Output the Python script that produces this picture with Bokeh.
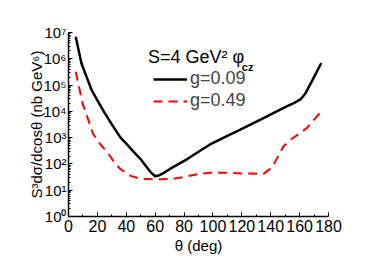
from bokeh.plotting import figure
from bokeh.models import FixedTicker, Legend, LegendItem, Label
from bokeh.embed import file_html
from bokeh.resources import INLINE

# --- data ---
theta_g009 = [5, 9, 12, 16, 20, 25, 30, 36, 40, 45, 50, 55, 57, 60, 63, 66, 70, 76, 82, 90, 98,
              110, 119, 135, 150, 157, 161, 164, 170, 175]
sigma_g009 = [6.9e6, 6.6e5, 2.45e5, 6.5e4, 2.6e4, 8.7e3, 3.2e3, 1.0e3, 5.9e2, 2.95e2, 1.5e2, 66,
              48, 34, 37, 46, 63, 98, 1.5e2, 2.9e2, 5.5e2, 1.17e3, 2.0e3, 5.5e3, 1.45e4, 2.2e4,
              3.0e4, 4.8e4, 2.0e5, 6.9e5]

theta_g049 = [5, 8, 10, 12, 17, 22, 27, 32, 36, 43, 50, 64, 72, 80, 91, 98, 110, 122, 135, 141,
              145, 149, 154, 165, 175]
sigma_g049 = [3.2e5, 5.6e4, 1.8e4, 8.9e3, 1.4e3, 5.6e2, 2.7e2, 1.1e2, 63, 35, 27, 26, 27, 32, 42,
              46, 46, 43, 42, 74, 1.9e2, 4.8e2, 8.5e2, 2.3e3, 1.0e4]

series_labels = ["g=0.09", "g=0.49"]
x_ticks = [0, 20, 40, 60, 80, 100, 120, 140, 160, 180]
x_minor_ticks = [10, 30, 50, 70, 90, 110, 130, 150, 170]
y_ticks = [1, 10, 100, 1000, 10000, 100000, 1000000, 10000000]
y_tick_labels = ["10⁰", "10¹", "10²", "10³", "10⁴", "10⁵", "10⁶", "10⁷"]
y_minor_ticks = [m * 10 ** e for e in range(0, 7) for m in range(2, 10)]

FONT = "Liberation Sans"

p = figure(width=366, height=256,
           min_border_left=68, min_border_right=38, min_border_top=32, min_border_bottom=38,
           y_axis_type="log", x_range=(0, 180), y_range=(1, 1e7),
           output_backend="svg", toolbar_location=None)
p.outline_line_color = None
p.xgrid.visible = False
p.ygrid.visible = False
p.background_fill_color = "white"
p.border_fill_color = "white"

r1 = p.line(theta_g009, sigma_g009, line_color="black", line_width=2.5, line_join="round")
r2 = p.line(theta_g049, sigma_g049, line_color="red", line_width=2, line_dash="9 6",
            line_join="round")

# axes
p.xaxis.ticker = FixedTicker(ticks=x_ticks, minor_ticks=x_minor_ticks)
p.yaxis.ticker = FixedTicker(ticks=y_ticks, minor_ticks=y_minor_ticks)
p.yaxis.major_label_overrides = {t: lab for t, lab in zip(y_ticks, y_tick_labels)}
for ax in (p.xaxis[0], p.yaxis[0]):
    ax.axis_line_color = "black"
    ax.axis_line_width = 1.5
    ax.major_tick_line_color = "black"
    ax.minor_tick_line_color = "black"
    ax.major_tick_in = 4
    ax.major_tick_out = 0
    ax.minor_tick_in = 2
    ax.minor_tick_out = 0
    ax.major_label_text_font = FONT
    ax.major_label_text_color = "black"
    ax.axis_label_text_font = FONT
    ax.axis_label_text_font_size = "15px"
    ax.axis_label_text_font_style = "normal"
    ax.axis_label_text_color = "black"
p.xaxis.major_label_text_font_size = "16px"
p.yaxis.major_label_text_font_size = "15px"
p.xaxis.axis_label = "θ (deg)"
p.yaxis.axis_label = "S³dσ/dcosθ (nb GeV⁶)"
p.xaxis.major_label_standoff = 3
p.yaxis.major_label_standoff = 2
p.xaxis.axis_label_standoff = 2
p.yaxis.axis_label_standoff = -5

legend = Legend(items=[LegendItem(label=series_labels[0], renderers=[r1]),
                       LegendItem(label=series_labels[1], renderers=[r2])],
                location=(85, 105), border_line_color=None, background_fill_alpha=0,
                padding=0, margin=0, spacing=1, glyph_width=34, glyph_height=20,
                label_height=20, label_standoff=3, label_text_font=FONT,
                label_text_font_size="18px")
p.add_layout(legend)

p.add_layout(Label(x=55, y=1.15e6, text="S=4 GeV² φ", text_font=FONT, text_font_size="18px",
                   text_baseline="alphabetic", text_color="black"))
p.add_layout(Label(x=120, y=5.0e5, text="cz", text_font=FONT, text_font_size="11px",
                   text_font_style="bold", text_baseline="alphabetic", text_color="black"))

open("out.html", "w").write(file_html(p, INLINE))
